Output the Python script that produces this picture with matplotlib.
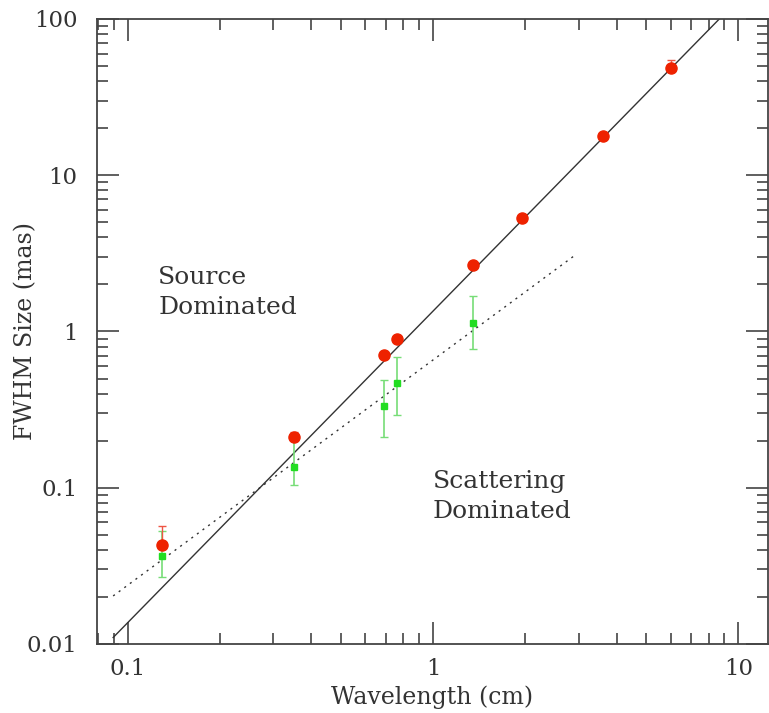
import matplotlib.pyplot as plt
from matplotlib.ticker import LogLocator, FixedLocator, NullFormatter

# Tamaños medidos (rojo) con barras de error
lam_rojo = [0.13, 0.35, 0.69, 0.76, 1.35, 1.96, 3.6, 6.0]
fwhm_rojo = [0.043, 0.21, 0.71, 0.89, 2.66, 5.3, 17.9, 48.7]
err_rojo_inf = [0.0, 0.0, 0.0, 0.0, 0.0, 0.0, 0.0, 2.0]
err_rojo_sup = [0.0135, 0.019, 0.0, 0.0, 0.0, 0.0, 0.0, 5.9]

# Tamaño de dispersión (verde) con barras de error
lam_verde = [0.13, 0.35, 0.69, 0.76, 1.35]
fwhm_verde = [0.0366, 0.136, 0.332, 0.465, 1.13]
err_verde_inf = [0.0096, 0.032, 0.122, 0.175, 0.36]
err_verde_sup = [0.0159, 0.067, 0.156, 0.224, 0.55]

# Rectas de ajuste (extremos)
ajuste_fuente_x = [0.0897, 8.66]
ajuste_fuente_y = [0.011, 100.0]
ajuste_disp_x = [0.0897, 2.92]
ajuste_disp_y = [0.0203, 3.08]

ROJO = '#ee2200'
VERDE = '#22dd22'
EJE = '#444444'
TEXTO = '#333333'

plt.rcParams['font.family'] = ['DejaVu Serif']

fig = plt.figure(figsize=(7.69, 7.13), dpi=100)
ax = fig.add_axes([0.1261, 0.0968, 0.8726, 0.8766])

ax.set_xscale('log')
ax.set_yscale('log')
ax.set_xlim(0.0794, 12.5)
ax.set_ylim(0.01, 100)

ax.plot(ajuste_fuente_x, ajuste_fuente_y, color='#333333', linewidth=1.0)
ax.plot(ajuste_disp_x, ajuste_disp_y, color='#333333', linewidth=1.0,
        linestyle=(0, (1.5, 3.5)))

ax.errorbar(lam_verde, fwhm_verde, yerr=[err_verde_inf, err_verde_sup],
            fmt='s', color=VERDE, ecolor='#77dd77', markersize=5,
            elinewidth=1.2, capsize=3, capthick=1.0, zorder=3)
ax.errorbar(lam_rojo, fwhm_rojo, yerr=[err_rojo_inf, err_rojo_sup],
            fmt='o', color=ROJO, ecolor='#ee5544', markersize=8,
            elinewidth=1.0, capsize=3, capthick=1.0, zorder=4)

# Textos
ax.text(0.126, 1.78, "Source\nDominated", fontsize=18, color=TEXTO,
        linespacing=1.4, va='center', ha='left')
ax.text(1.0, 0.088, "Scattering\nDominated", fontsize=18, color=TEXTO,
        linespacing=1.4, va='center', ha='left')

ax.set_xlabel("Wavelength (cm)", fontsize=17, color=TEXTO, va='center')
ax.set_ylabel("FWHM Size (mas)", fontsize=17, color=TEXTO, va='center')
ax.xaxis.set_label_coords(0.5, -0.086)
ax.yaxis.set_label_coords(-0.106, 0.5)

# Marcas hacia dentro en los cuatro lados
for lado in ax.spines.values():
    lado.set_color(EJE)
    lado.set_linewidth(1.3)
ax.xaxis.set_major_locator(FixedLocator([0.1, 1, 10]))
ax.xaxis.set_minor_locator(LogLocator(base=10, subs=range(2, 10)))
ax.yaxis.set_major_locator(FixedLocator([0.01, 0.1, 1, 10, 100]))
ax.yaxis.set_minor_locator(LogLocator(base=10, subs=range(2, 10)))
ax.xaxis.set_minor_formatter(NullFormatter())
ax.yaxis.set_minor_formatter(NullFormatter())
ax.set_xticklabels(['0.1', '1', '10'])
ax.set_yticklabels(['0.01', '0.1', '1', '10', '100'])
ax.tick_params(which='both', direction='in', top=True, right=True,
               color=EJE, width=1.2, labelsize=16.5, labelcolor=TEXTO)
ax.tick_params(which='major', length=16)
ax.tick_params(axis='y', which='major', pad=14)
ax.tick_params(axis='x', which='major', pad=10)
ax.tick_params(which='minor', length=8)

fig.savefig('out.png', dpi=100, facecolor='white')
